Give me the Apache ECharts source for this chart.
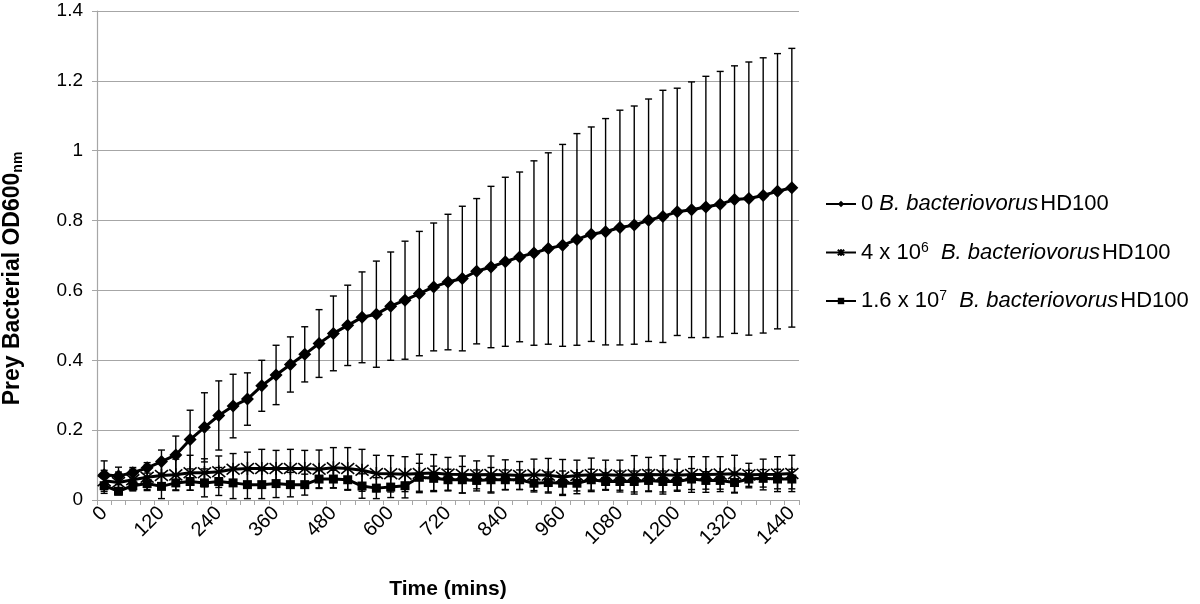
<!DOCTYPE html>
<html>
<head>
<meta charset="utf-8">
<script src="https://cdn.jsdelivr.net/npm/echarts@6/dist/echarts.min.js"></script>
<style>html,body{margin:0;padding:0;background:#fff;}#c{width:1200px;height:604px;}</style>
</head>
<body>
<div id="c"></div>
<script>
// Time points (mins)
const times = [];
for (let t = 0; t <= 1440; t += 30) times.push(String(t));

const seriesNames = [
  '0 B. bacteriovorus HD100',
  '4 x 10^6 B. bacteriovorus HD100',
  '1.6 x 10^7 B. bacteriovorus HD100'
];

// 0 B. bacteriovorus HD100
const mean0 = [0.072,0.069,0.078,0.092,0.110,0.129,0.173,0.208,0.242,0.269,0.289,0.327,0.358,0.388,0.417,0.448,0.477,0.500,0.523,0.532,0.555,0.572,0.591,0.610,0.624,0.634,0.655,0.667,0.682,0.696,0.707,0.720,0.729,0.746,0.761,0.768,0.780,0.787,0.801,0.812,0.825,0.831,0.839,0.847,0.860,0.863,0.872,0.884,0.894];
const err0  = [0.040,0.025,0.015,0.015,0.033,0.054,0.084,0.099,0.099,0.091,0.075,0.073,0.085,0.079,0.079,0.097,0.107,0.115,0.130,0.152,0.155,0.169,0.178,0.183,0.194,0.207,0.208,0.231,0.242,0.243,0.264,0.274,0.289,0.303,0.307,0.324,0.336,0.341,0.347,0.361,0.354,0.366,0.374,0.380,0.383,0.391,0.394,0.394,0.399];

// 4 x 10^6 B. bacteriovorus HD100
const mean1 = [0.055,0.050,0.058,0.065,0.070,0.072,0.078,0.078,0.081,0.088,0.090,0.090,0.090,0.090,0.090,0.088,0.092,0.090,0.085,0.076,0.075,0.074,0.076,0.077,0.074,0.073,0.072,0.073,0.072,0.070,0.072,0.071,0.066,0.070,0.072,0.072,0.071,0.072,0.073,0.072,0.071,0.073,0.073,0.074,0.075,0.072,0.073,0.074,0.076];
const err1  = [0.030,0.030,0.030,0.035,0.040,0.045,0.050,0.040,0.045,0.045,0.047,0.055,0.052,0.055,0.052,0.055,0.058,0.060,0.060,0.052,0.052,0.050,0.055,0.053,0.048,0.053,0.040,0.053,0.043,0.040,0.045,0.048,0.050,0.044,0.048,0.042,0.043,0.055,0.049,0.055,0.046,0.051,0.051,0.050,0.053,0.033,0.044,0.050,0.052];

// 1.6 x 10^7 B. bacteriovorus HD100
const mean2 = [0.041,0.025,0.041,0.047,0.039,0.049,0.053,0.049,0.053,0.049,0.044,0.044,0.047,0.044,0.044,0.060,0.060,0.058,0.040,0.034,0.037,0.041,0.065,0.062,0.058,0.058,0.056,0.058,0.058,0.058,0.048,0.050,0.048,0.048,0.058,0.053,0.053,0.053,0.056,0.053,0.053,0.060,0.056,0.056,0.050,0.060,0.062,0.060,0.060];
const err2  = [0.022,0.010,0.015,0.020,0.035,0.020,0.025,0.040,0.040,0.045,0.040,0.040,0.040,0.035,0.030,0.025,0.025,0.030,0.035,0.030,0.030,0.035,0.040,0.035,0.030,0.038,0.030,0.035,0.028,0.028,0.025,0.030,0.035,0.030,0.030,0.025,0.030,0.030,0.030,0.030,0.025,0.030,0.025,0.025,0.030,0.025,0.025,0.028,0.028];

const yTicks = [0, 0.2, 0.4, 0.6, 0.8, 1, 1.2, 1.4];

const FONT = 'Liberation Sans, Arial, sans-serif';
const STAR = 'path://M0,0L10,10M10,0L0,10M5,-1L5,11';

function errSeries(means, errs) {
  return {
    type: 'custom',
    silent: true,
    z: 1,
    data: means.map((m, i) => [i, m - errs[i], m + errs[i]]),
    renderItem: function (params, api) {
      const i = api.value(0);
      const lo = api.coord([i, api.value(1)]);
      const hi = api.coord([i, api.value(2)]);
      const cw = 3.5;
      const st = { stroke: '#000', lineWidth: 1.4 };
      return {
        type: 'group',
        children: [
          { type: 'line', shape: { x1: hi[0], y1: hi[1], x2: lo[0], y2: lo[1] }, style: st },
          { type: 'line', shape: { x1: hi[0] - cw, y1: hi[1], x2: hi[0] + cw, y2: hi[1] }, style: st },
          { type: 'line', shape: { x1: lo[0] - cw, y1: lo[1], x2: lo[0] + cw, y2: lo[1] }, style: st }
        ]
      };
    },
    encode: { x: 0, y: [1, 2] }
  };
}

function lineSeries(name, data, symbol, size, extra) {
  return Object.assign({
    name: name,
    type: 'line',
    data: data,
    symbol: symbol,
    symbolSize: size,
    showAllSymbol: true,
    z: 3,
    lineStyle: { color: '#000', width: 3 },
    itemStyle: { color: '#000', borderColor: '#000', borderWidth: 0 },
    animation: false
  }, extra || {});
}

const legendRich = {
  n: { fontFamily: FONT, fontSize: 22, color: '#000' },
  i: { fontFamily: FONT, fontSize: 22, fontStyle: 'italic', color: '#000' },
  h: { fontFamily: FONT, fontSize: 22, color: '#000', padding: [0, 0, 0, 2] },
  sup: { fontFamily: FONT, fontSize: 14, color: '#000', verticalAlign: 'top', padding: [0, 0, 9, 0] }
};
function legendFmt(name) {
  if (name === seriesNames[0]) return '{n|0 }{i|B. bacteriovorus}{h|HD100}';
  if (name === seriesNames[1]) return '{n|4 x 10}{sup|6}{n|  }{i|B. bacteriovorus}{h|HD100}';
  return '{n|1.6 x 10}{sup|7}{n|  }{i|B. bacteriovorus}{h|HD100}';
}

const chart = echarts.init(document.getElementById('c'), null, { renderer: 'canvas' });
chart.setOption({
  animation: false,
  backgroundColor: '#fff',
  grid: { left: 97, right: 401, top: 11, bottom: 104, containLabel: false, outerBoundsMode: 'none' },
  xAxis: {
    type: 'category',
    data: times,
    boundaryGap: true,
    name: 'Time (mins)',
    nameLocation: 'middle',
    nameGap: 79,
    nameTextStyle: { fontFamily: FONT, fontSize: 21, fontWeight: 'bold', color: '#000' },
    axisLine: { lineStyle: { color: '#a6a6a6', width: 1.2 } },
    axisTick: { show: true, interval: 0, length: 5, lineStyle: { color: '#a6a6a6' } },
    axisLabel: { interval: 3, rotate: 45, fontFamily: FONT, fontSize: 20, color: '#000', margin: 10 },
    splitLine: { show: false }
  },
  yAxis: {
    type: 'value',
    min: 0, max: 1.4, interval: 0.2,
    name: '{b|Prey Bacterial OD600}{s|nm}',
    nameLocation: 'middle',
    nameRotate: 90,
    nameGap: 72,
    nameTextStyle: {
      padding: [0, 46, 0, 0],
      rich: {
        b: { fontFamily: FONT, fontSize: 23, fontWeight: 'bold', color: '#000' },
        s: { fontFamily: FONT, fontSize: 14, fontWeight: 'bold', color: '#000', verticalAlign: 'bottom', padding: [10, 0, 0, 0] }
      }
    },
    axisLine: { show: true, lineStyle: { color: '#a6a6a6', width: 1.2 } },
    axisTick: { show: true, length: 5, lineStyle: { color: '#a6a6a6' } },
    axisLabel: {
      fontFamily: FONT, fontSize: 19, color: '#000', margin: 14,
      formatter: function (v) {
        const t = yTicks.find(x => Math.abs(x - v) < 1e-9);
        return String(t !== undefined ? t : v);
      }
    },
    splitLine: { lineStyle: { color: '#a6a6a6', width: 1.2 } }
  },
  legend: {
    orient: 'vertical',
    left: 820,
    top: 188,
    itemGap: 26,
    itemWidth: 30,
    itemHeight: 8,
    data: seriesNames,
    formatter: legendFmt,
    textStyle: { rich: legendRich, fontSize: 22 },
    selectedMode: false
  },
  series: [
    errSeries(mean0, err0),
    errSeries(mean1, err1),
    errSeries(mean2, err2),
    lineSeries(seriesNames[0], mean0, 'diamond', 13),
    lineSeries(seriesNames[1], mean1, STAR, 13, {
      itemStyle: { color: 'rgba(0,0,0,0)', borderColor: '#000', borderWidth: 1.6 },
      lineStyle: { color: '#000', width: 3 }
    }),
    lineSeries(seriesNames[2], mean2, 'rect', 9)
  ]
});
</script>
</body>
</html>
